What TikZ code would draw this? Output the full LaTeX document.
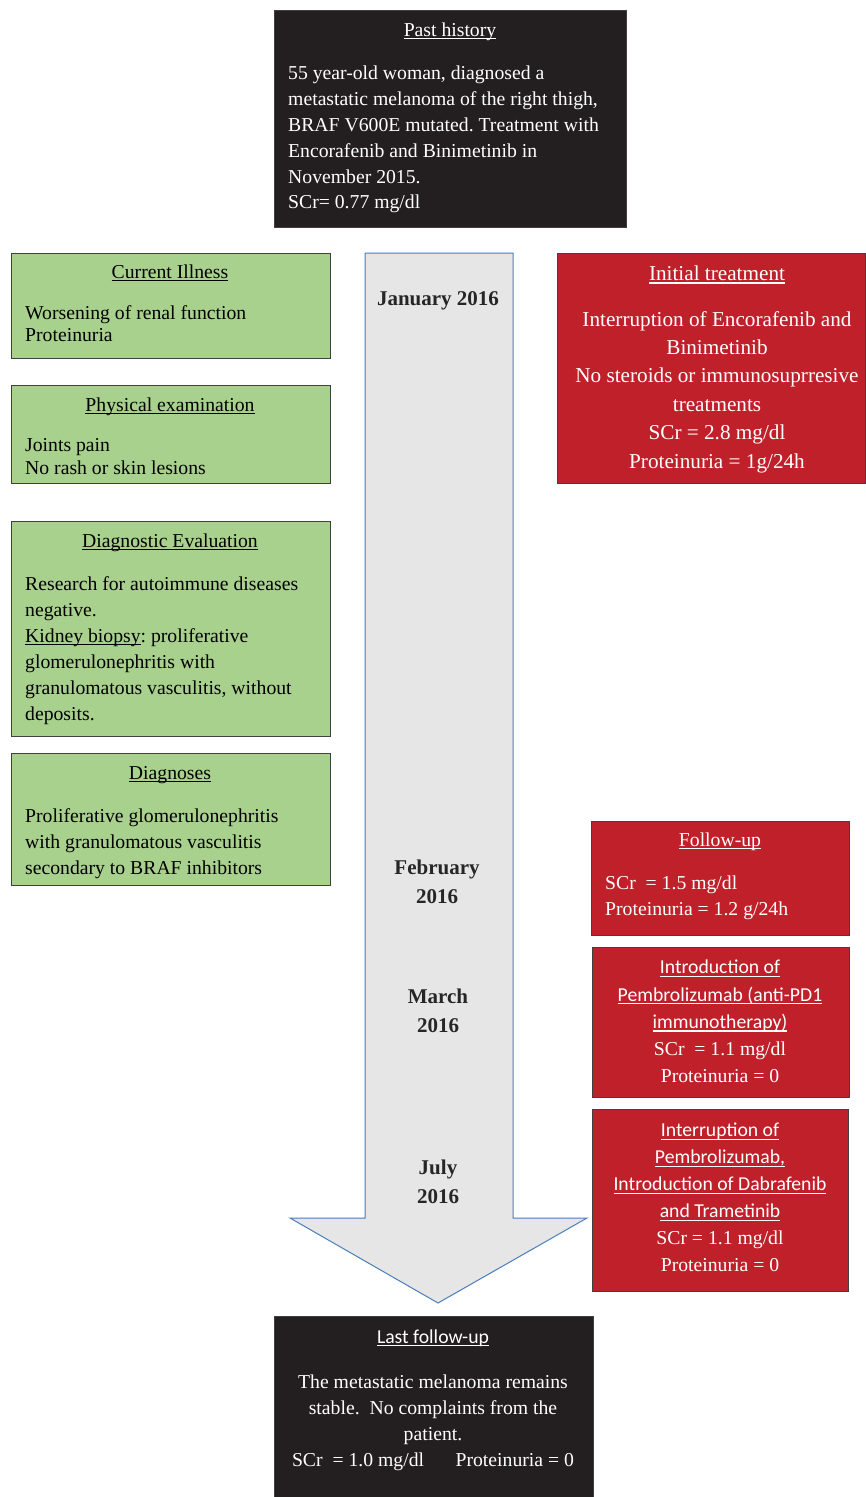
\documentclass[tikz,border=0pt]{standalone}
\usepackage{fontspec}
\setmainfont{Liberation Serif}
\newfontfamily\calibri{Carlito}
\frenchspacing
\newsavebox\ulbox
\newcommand\uln[1]{\sbox\ulbox{#1}\rlap{\rule[-0.17em]{\wd\ulbox}{0.06em}}\usebox\ulbox}
\definecolor{darkbox}{HTML}{231F20}
\definecolor{greenbox}{HTML}{A9D18E}
\definecolor{redbox}{HTML}{C0202A}
\definecolor{arrowfill}{HTML}{E7E6E6}
\definecolor{arrowline}{HTML}{4A7EBB}
\definecolor{boxline}{HTML}{404040}
\begin{document}
\begin{tikzpicture}[x=1pt,y=-1pt,
  box/.style={draw=boxline, line width=1.2pt, anchor=north west, inner sep=0pt},
  txt/.style={anchor=base, inner sep=0pt, font=\fontsize{19.7}{26}\selectfont},
  body/.style={txt, anchor=north west, align=left},
  cbody/.style={txt, anchor=north, align=center},
  date/.style={txt, anchor=north, align=center, font=\fontsize{21}{28.5}\selectfont\bfseries, text=black!85}]
\useasboundingbox (0,0) rectangle (865,1497);
\newcommand\infobox[6]{
\node[box, fill=#2, minimum width=#5, minimum height=#6] (#1) at (#3,#4) {};
}
% time line arrow
\path[draw=arrowline, fill=arrowfill, line width=1pt]
  (365,253) -- (513,253) -- (513,1218) -- (587,1218) -- (438,1303)
  -- (290,1218) -- (365,1218) -- cycle;
\node[date] (jan) at (438,291) {January 2016};
\node[date] (feb) at (437,860) {February\\2016};
\node[date] (mar) at (438,989) {March\\2016};
\node[date] (jul) at (438,1160) {July\\2016};
% past history
\infobox{past}{darkbox}{274}{10}{352}{217}
\node[txt, white] (pasttitle) at (450,36) {\uln{Past history}};
\node[body, white, font=\fontsize{19.7}{25.8}\selectfont] (pasttext) at (288,66)
  {55 year-old woman, diagnosed a\\metastatic melanoma of the right thigh,\\BRAF V600E mutated. Treatment with\\Encorafenib and Binimetinib in\\November 2015.\\SCr= 0.77 mg/dl};
% left column
\infobox{illness}{greenbox}{11}{253}{319}{105}
\node[txt] (illnesstitle) at (170,278) {\uln{Current Illness}};
\node[body, font=\fontsize{19.7}{22}\selectfont] (illnesstext) at (25,305)
  {Worsening of renal function\\Proteinuria};
\infobox{exam}{greenbox}{11}{385}{319}{98}
\node[txt] (examtitle) at (170,411) {\uln{Physical examination}};
\node[body, font=\fontsize{19.7}{23}\selectfont] (examtext) at (25,438)
  {Joints pain\\No rash or skin lesions};
\infobox{eval}{greenbox}{11}{521}{319}{215}
\node[txt] (evaltitle) at (170,547) {\uln{Diagnostic Evaluation}};
\node[body] (evaltext) at (25,576)
  {Research for autoimmune diseases\\negative.\\\uln{Kidney biopsy}: proliferative\\glomerulonephritis with\\granulomatous vasculitis, without\\deposits.};
\infobox{diag}{greenbox}{11}{753}{319}{132}
\node[txt] (diagtitle) at (170,779) {\uln{Diagnoses}};
\node[body] (diagtext) at (25,808)
  {Proliferative glomerulonephritis\\with granulomatous vasculitis\\secondary to BRAF inhibitors};
% right column
\infobox{initial}{redbox}{557}{253}{308}{230}
\node[txt, white, font=\fontsize{21.2}{28.4}\selectfont] (initialtitle) at (717,280) {\uln{Initial treatment}};
\node[cbody, white, font=\fontsize{21.2}{28.4}\selectfont] (initialtext) at (717,311)
  {Interruption of Encorafenib and\\Binimetinib\\No steroids or immunosuprresive\\treatments\\SCr = 2.8 mg/dl\\Proteinuria = 1g/24h};
\infobox{follow}{redbox}{591}{821}{258}{114}
\node[txt, white] (followtitle) at (720,846) {\uln{Follow-up}};
\node[body, white] (followtext) at (605,876)
  {SCr~ = 1.5 mg/dl\\Proteinuria = 1.2 g/24h};
\infobox{pembro}{redbox}{592}{947}{257}{150}
\node[cbody, white, font=\fontsize{19.7}{27.2}\selectfont] (pembrotext) at (720,960)
  {{\calibri\uln{Introduction of}}\\{\calibri\uln{Pembrolizumab (anti-PD1}}\\{\calibri\uln{immunotherapy)}}\\SCr~ = 1.1 mg/dl\\Proteinuria = 0};
\infobox{switch}{redbox}{592}{1109}{256}{182}
\node[cbody, white, font=\fontsize{19.7}{27}\selectfont] (switchtext) at (720,1123)
  {{\calibri\uln{Interruption of}}\\{\calibri\uln{Pembrolizumab,}}\\{\calibri\uln{Introduction of Dabrafenib}}\\{\calibri\uln{and Trametinib}}\\SCr = 1.1 mg/dl\\Proteinuria = 0};
% last follow-up
\infobox{last}{darkbox}{274}{1316}{319}{181}
\node[txt, white, font=\fontsize{19.7}{26}\selectfont\calibri] (lasttitle) at (433,1343) {\uln{Last follow-up}};
\node[cbody, white] (lasttext) at (433,1375)
  {The metastatic melanoma remains\\stable.~ No complaints from the\\patient.\\SCr~ = 1.0 mg/dl\hspace{1.6em}Proteinuria = 0};
\end{tikzpicture}
\end{document}
